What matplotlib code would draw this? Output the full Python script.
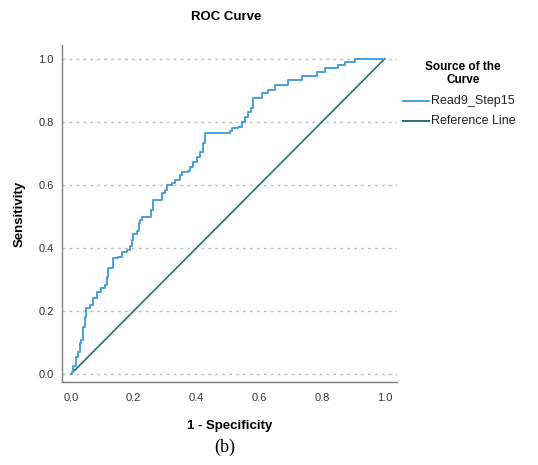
import matplotlib
matplotlib.use("Agg")
import matplotlib.pyplot as plt
from matplotlib.lines import Line2D

plt.rcParams['font.family'] = ['Liberation Sans', 'DejaVu Sans']

fpr = [0.000, 0.003, 0.006, 0.013, 0.016, 0.022, 0.029, 0.033, 0.038, 0.045,
       0.049, 0.061, 0.070, 0.083, 0.096, 0.108, 0.115, 0.119, 0.134, 0.150,
       0.161, 0.177, 0.188, 0.194, 0.199, 0.210, 0.215, 0.220, 0.226, 0.252,
       0.256, 0.261, 0.283, 0.290, 0.299, 0.306, 0.322, 0.331, 0.347, 0.354,
       0.373, 0.379, 0.389, 0.401, 0.411, 0.420, 0.427, 0.500, 0.506, 0.513,
       0.532, 0.545, 0.554, 0.564, 0.573, 0.580, 0.608, 0.627, 0.650, 0.691,
       0.736, 0.783, 0.809, 0.850, 0.873, 0.904, 1.000]
tpr = [0.000, 0.006, 0.025, 0.025, 0.054, 0.070, 0.098, 0.108, 0.149, 0.181,
       0.209, 0.219, 0.241, 0.260, 0.273, 0.282, 0.307, 0.336, 0.368, 0.371,
       0.387, 0.393, 0.406, 0.425, 0.444, 0.453, 0.479, 0.488, 0.498, 0.498,
       0.520, 0.552, 0.552, 0.574, 0.583, 0.599, 0.605, 0.615, 0.631, 0.640,
       0.643, 0.656, 0.672, 0.688, 0.704, 0.732, 0.764, 0.764, 0.770, 0.780,
       0.783, 0.799, 0.815, 0.830, 0.843, 0.875, 0.891, 0.900, 0.916, 0.932,
       0.945, 0.957, 0.970, 0.979, 0.989, 1.000, 1.000]
ref_x = [0.0, 1.0]
ref_y = [0.0, 1.0]
ticks = [0.0, 0.2, 0.4, 0.6, 0.8, 1.0]
tick_labels = ["0.0", "0.2", "0.4", "0.6", "0.8", "1.0"]
series_names = ["Read9_Step15", "Reference Line"]
colors = ['#4aa0dc', '#24736c']

W, H = 538, 465
fig = plt.figure(figsize=(W / 100, H / 100), dpi=100)
ax = fig.add_axes([62 / W, 1 - 382 / H, (397 - 62) / W, (382 - 45) / H])

for t in ticks:
    ax.axhline(t, color='#bdbdbd', lw=1.0, ls=(0, (2, 3)), zorder=0)

ax.plot(fpr, tpr, color=colors[0], lw=1.4, drawstyle='steps-post', zorder=3)
ax.plot(ref_x, ref_y, color=colors[1], lw=1.2, zorder=2)

ax.set_xlim(-0.0287, 1.0382)
ax.set_ylim(-0.0254, 1.0428)
ax.set_xticks(ticks)
ax.set_xticklabels(tick_labels)
ax.set_yticks(ticks)
ax.set_yticklabels(tick_labels)
ax.tick_params(length=0, labelsize=8, colors='#333333')
ax.tick_params(axis='x', pad=8)
ax.tick_params(axis='y', pad=6)
for s in ['top', 'right']:
    ax.spines[s].set_visible(False)
for s in ['left', 'bottom']:
    ax.spines[s].set_color('#7f7f7f')
    ax.spines[s].set_linewidth(1.0)

ax.set_xlabel("1 - Specificity", fontsize=9.5, fontweight='bold', labelpad=12)
ax.set_ylabel("Sensitivity", fontsize=9.5, fontweight='bold', labelpad=9)

fig.text(226 / W, 1 - 17 / H, "ROC Curve", ha='center', va='center',
         fontsize=9.5, fontweight='bold')
fig.text(225 / W, 1 - 447 / H, "(b)", ha='center', va='center',
         fontsize=13, family=['Liberation Serif', 'DejaVu Serif'])

# legend drawn manually
fig.text(463 / W, 1 - 67 / H, "Source of the", ha='center', va='center',
         fontsize=8.5, fontweight='bold')
fig.text(463 / W, 1 - 80 / H, "Curve", ha='center', va='center',
         fontsize=8.5, fontweight='bold')
for i, (name, c) in enumerate(zip(series_names, colors)):
    yy = 1 - (101 + 20 * i) / H
    fig.add_artist(Line2D([403 / W, 429 / W], [yy, yy], color=c, lw=1.4,
                          transform=fig.transFigure))
    fig.text(431 / W, yy, name, ha='left', va='center', fontsize=9,
             color='#222222')

fig.savefig("out.png", dpi=100)
